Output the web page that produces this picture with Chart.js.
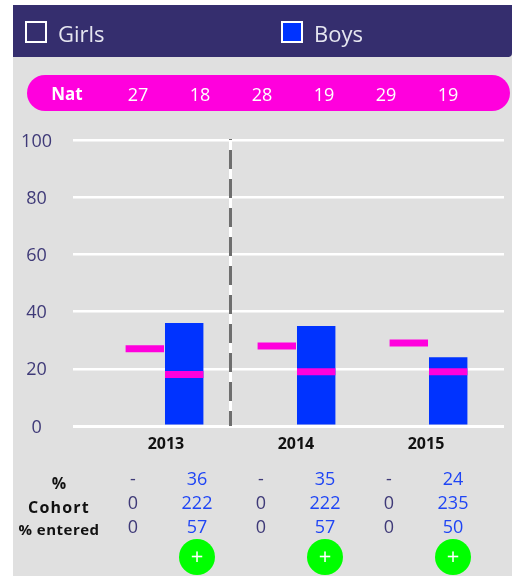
<!DOCTYPE html>
<html><head><meta charset="utf-8">
<script src="https://cdn.jsdelivr.net/npm/chart.js@4"></script>
<style>
html,body{margin:0;padding:0;background:#fff;width:512px;height:576px;overflow:hidden;font-family:"Open Sans",sans-serif}
#panel{position:absolute;left:13px;top:5px;width:499px;height:571px;background:#e0e0e0}
#head{position:absolute;left:13px;top:5px;width:499px;height:52px;background:#352e6e;border-bottom-right-radius:4px}
#pill{position:absolute;left:27px;top:75px;width:483px;height:36px;background:#ff00dd;border-radius:18px}
.t{position:absolute;transform:translate(-50%,-50%);white-space:nowrap;line-height:1}
.sw{position:absolute;top:21px;width:18px;height:18px;border:2.5px solid #fff}
.lg{position:absolute;top:33px;transform:translateY(-50%);font-size:22px;color:#e6e6f0;line-height:1}
.btn{position:absolute;width:36px;height:36px;border-radius:50%;background:#00ff00;color:#fff;transform:translate(-50%,-50%);top:557px;font-size:22px;line-height:33px;text-align:center}
canvas{position:absolute;left:0;top:0}
</style></head><body>
<div id="panel"></div><div id="head"></div><div id="pill"></div>
<canvas id="c" width="512" height="576"></canvas>
<div id="over"></div>
<script>
const categories=["2013","2014","2015"];
const seriesNames=["Girls","Boys"];
const girlsValues=[null,null,null];
const boysValues=[36,35,24];
const natGirls=[27,28,29];
const natBoys=[18,19,19];
const pctGirls=["-","-","-"];
const pctBoys=[36,35,24];
const cohortGirls=[0,0,0];
const cohortBoys=[222,222,235];
const enteredGirls=[0,0,0];
const enteredBoys=[57,57,50];
const yTicks=[0,20,40,60,80,100];
const rowLabels=["%","Cohort","% entered"];
const natLabel="Nat";

const over=document.getElementById('over');
function add(cls,style,text){const d=document.createElement('div');d.className=cls;d.style.cssText=style;d.textContent=text;over.appendChild(d);return d;}
add('sw','left:25px;background:transparent','');
add('lg','left:58px',seriesNames[0]);
add('sw','left:281px;background:#0033ff','');
add('lg','left:314px',seriesNames[1]);
add('t','left:67px;top:93px;font-size:17px;font-weight:700;color:#fff',natLabel);
const natFlat=[];natGirls.forEach((v,i)=>natFlat.push(v,natBoys[i]));
natFlat.forEach((v,i)=>add('t',`left:${138+62*i}px;top:94px;font-size:18px;color:#fff`,v));
const rows=[[pctGirls,pctBoys,478],[cohortGirls,cohortBoys,502],[enteredGirls,enteredBoys,526]];
rows.forEach(([g,b,y])=>{categories.forEach((c,i)=>{
  add('t',`left:${133+128*i}px;top:${y}px;font-size:18px;color:#3f3a78`,g[i]);
  add('t',`left:${197+128*i}px;top:${y}px;font-size:18px;color:#1f45f5`,b[i]);
});});
add('t','left:59px;top:483px;font-size:16px;font-weight:700;color:#111',rowLabels[0]);
add('t','left:59px;top:507px;font-size:16px;font-weight:700;color:#111;letter-spacing:1.2px',rowLabels[1]);
add('t','left:59px;top:529px;font-size:15px;font-weight:700;color:#111;letter-spacing:.5px',rowLabels[2]);
categories.forEach((c,i)=>add('btn',`left:${197+128*i}px`,'+'));

const pts=a=>a.map((v,i)=>({x:i,y:v}));
const marker=a=>a.map((v,i)=>({x:i,y:[v-1.22,v+1.22]}));
const divider={id:'divider',beforeDatasetsDraw(ch){
  const x=ch.scales.x.getPixelForValue(0.5),top=139,bot=ch.scales.y.getPixelForValue(0),c=ch.ctx;
  c.save();c.lineWidth=3;
  c.strokeStyle='#ffffff';c.beginPath();c.moveTo(x,top);c.lineTo(x,bot);c.stroke();
  c.strokeStyle='#6e6e6e';c.setLineDash([19,10]);c.lineDashOffset=18;c.beginPath();c.moveTo(x,top);c.lineTo(x,bot);c.stroke();
  c.restore();
}};
const barOpts={categoryPercentage:80/132,barPercentage:39/40};
new Chart(document.getElementById('c'),{
  type:'bar',
  data:{datasets:[
    {label:'Nat Girls',stack:'g',order:0,data:marker(natGirls),backgroundColor:'#ff00dd',...barOpts},
    {label:'Nat Boys',stack:'b',order:0,data:marker(natBoys),backgroundColor:'#ff00dd',...barOpts},
    {label:seriesNames[0],stack:'g',order:1,data:pts(girlsValues),backgroundColor:'transparent',...barOpts},
    {label:seriesNames[1],stack:'b',order:1,data:pts(boysValues),backgroundColor:'#0033ff',...barOpts}
  ]},
  options:{
    responsive:false,animation:false,
    layout:{padding:{left:0,right:8,top:140,bottom:0}},
    plugins:{legend:{display:false},tooltip:{enabled:false}},
    scales:{
      x:{type:'linear',offset:false,min:-0.69318,max:2.57197,
        border:{display:false},grid:{display:false,drawTicks:false},
        afterFit(s){s.height=150;},
        afterBuildTicks(s){s.ticks=[{value:0.011},{value:0.996},{value:1.981}];},
        ticks:{autoSkip:false,maxRotation:0,padding:9,color:'#111',font:{family:'"Open Sans"',size:16,weight:'700'},
          callback(v,i){return categories[i];}}
      },
      y:{min:0,max:100,stacked:false,
        border:{display:false},
        afterFit(s){s.width=73;},
        afterBuildTicks(s){s.ticks=yTicks.map(v=>({value:v}));},
        grid:{color:'#ffffff',lineWidth:c=>c.tick&&c.tick.value===0?3:2.5,drawTicks:false},
        ticks:{crossAlign:'center',padding:21,labelOffset:1.5,color:'#3f3a78',font:{family:'"Open Sans"',size:18}}
      }
    }
  },
  plugins:[divider]
});
</script>
</body></html>
